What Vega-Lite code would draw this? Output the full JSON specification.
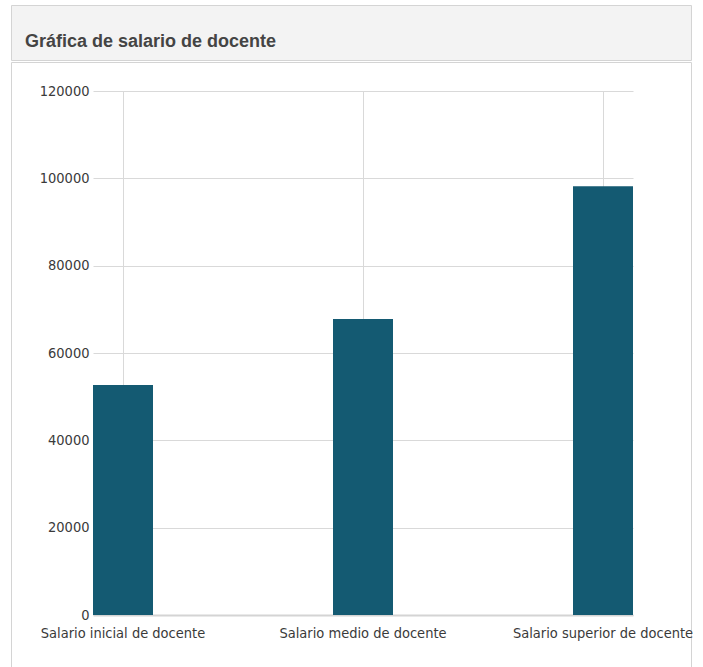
{
  "$schema": "https://vega.github.io/schema/vega-lite/v6.json",
  "padding": {"left": 10, "top": 4, "right": 0, "bottom": 0},
  "background": "white",
  "spacing": 0,
  "config": {"concat": {"spacing": 0}},
  "vconcat": [
    {
      "width": 680,
      "height": 55,
      "view": {"fill": "#f3f3f3", "stroke": "#d4d4d4", "strokeWidth": 1},
      "data": {"values": [{"titulo": "Gráfica de salario de docente"}]},
      "mark": {"type": "text", "align": "left", "baseline": "middle", "dx": 14, "dy": 9, "font": "Liberation Sans", "fontSize": 18, "fontWeight": "bold", "color": "#444444"},
      "encoding": {
        "text": {"field": "titulo"},
        "x": {"datum": 0, "type": "quantitative", "scale": {"domain": [0, 1]}, "axis": null},
        "y": {"datum": 0.5, "type": "quantitative", "scale": {"domain": [0, 1]}, "axis": null}
      }
    },
    {
      "width": 680,
      "height": 612,
      "view": {"fill": "white", "stroke": "#d4d4d4", "strokeWidth": 1},
      "data": {"values": [
        {"categoria": "Salario inicial de docente", "salario": 52700},
        {"categoria": "Salario medio de docente", "salario": 67800},
        {"categoria": "Salario superior de docente", "salario": 98200}
      ]},
      "mark": {"type": "bar", "color": "#145a72"},
      "encoding": {
        "x": {
          "field": "categoria", "type": "nominal", "sort": null,
          "scale": {"range": [82, 622], "paddingInner": 0.75, "paddingOuter": 0},
          "axis": {
            "title": null, "orient": "top", "offset": -553, "grid": true, "bandPosition": 0.5,
            "gridColor": "#d9d9d9", "gridWidth": 1,
            "domain": true, "domainColor": "#d4d4d4", "domainWidth": 2,
            "ticks": false, "tickSize": 0, "labelAngle": 0, "labelBaseline": "top", "labelPadding": -11, "labelLimit": 300,
            "labelFont": "DejaVu Sans Condensed, Liberation Sans, sans-serif", "labelFontSize": 14.5, "labelColor": "#3a3a3a"
          }
        },
        "y": {
          "field": "salario", "type": "quantitative",
          "scale": {"domain": [0, 120000], "range": [553, 29], "nice": false},
          "axis": {
            "title": null, "offset": -82, "values": [0, 20000, 40000, 60000, 80000, 100000, 120000],
            "format": "d", "domain": false, "ticks": false, "labelPadding": 4,
            "gridColor": "#d9d9d9", "gridWidth": 1,
            "labelFont": "DejaVu Sans Condensed, Liberation Sans, sans-serif", "labelFontSize": 14.5, "labelColor": "#3a3a3a"
          }
        }
      }
    }
  ]
}
